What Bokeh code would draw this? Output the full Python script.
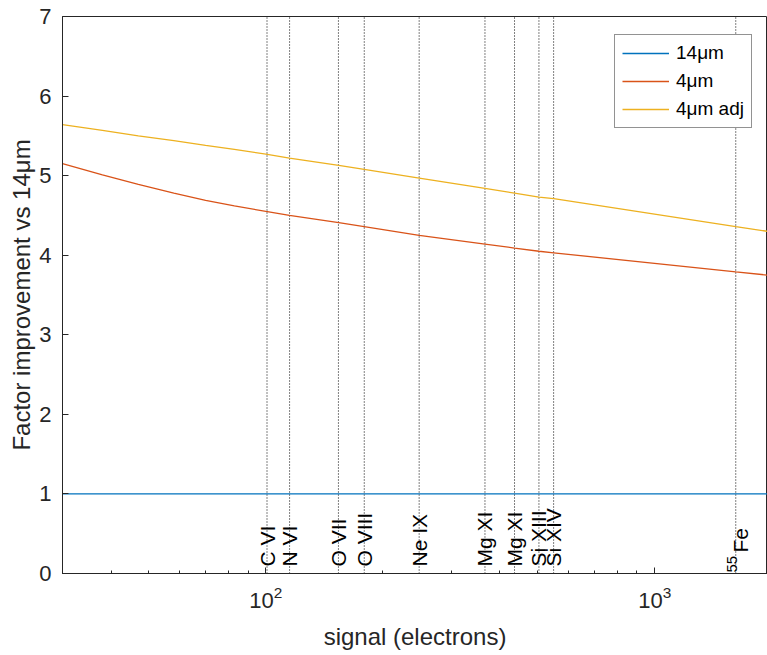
import math
from bokeh.plotting import figure
from bokeh.models import FixedTicker, Legend, LegendItem, Range1d, LogTickFormatter
from bokeh.embed import file_html
from bokeh.resources import INLINE
from bokeh.core.properties import value

# ---- data ----
signal = [30, 38, 47, 58, 70, 83, 100, 115, 154, 179, 248, 366, 436, 504, 550, 1616, 1950]
f_14um = [1.0] * len(signal)
f_4um = [5.15, 5.01, 4.89, 4.78, 4.69, 4.62, 4.55, 4.50, 4.41, 4.36, 4.25, 4.14, 4.09, 4.05, 4.03, 3.79, 3.75]
f_4um_adj = [5.64, 5.57, 5.50, 5.44, 5.38, 5.33, 5.27, 5.22, 5.13, 5.08, 4.97, 4.84, 4.78, 4.73, 4.71, 4.36, 4.30]

line_names = ["C VI", "N VI", "O VII", "O VIII", "Ne IX", "Mg XI", "Mg XI", "Si XIII", "Si XIV"]
line_signal = [100.7, 115.1, 153.7, 179.1, 247.9, 366.0, 436.0, 503.8, 549.6]
fe_signal = [1615.9]

x_major = [100, 1000]
x_minor = [30, 40, 50, 60, 70, 80, 90, 200, 300, 400, 500, 600, 700, 800, 900, 2000]
y_ticks = [0, 1, 2, 3, 4, 5, 6, 7]

FONT = "Liberation Sans"
AX = "#262626"

p = figure(x_axis_type="log", width=767, height=652,
           x_range=Range1d(30, 1950), y_range=Range1d(0, 7),
           output_backend="svg", toolbar_location=None,
           min_border_left=62, min_border_right=0, min_border_top=16, min_border_bottom=76)
p.background_fill_color = "white"
p.border_fill_color = "white"
p.outline_line_color = AX
p.outline_line_width = 1
p.xgrid.visible = False
p.ygrid.visible = False

# vertical emission-line markers
n_marks = len(line_signal) + len(fe_signal)
p.segment(x0=line_signal + fe_signal, x1=line_signal + fe_signal,
          y0=[0] * n_marks, y1=[7] * n_marks,
          line_color="black", line_width=1, line_dash="1 2")

r14 = p.line(signal, f_14um, line_color="#0072BD", line_width=1.3)
r4 = p.line(signal, f_4um, line_color="#D95319", line_width=1.3)
r4a = p.line(signal, f_4um_adj, line_color="#EDB120", line_width=1.3)

p.text(x=line_signal, y=[0] * len(line_signal), text=line_names, angle=math.pi / 2,
       text_align="left", text_baseline="middle", y_offset=-7,
       text_font=value(FONT), text_font_size="21px", text_color="black")
p.text(x=fe_signal, y=[0], text=["55"], angle=math.pi / 2,
       text_align="left", text_baseline="middle", x_offset=-4, y_offset=-1,
       text_font=value(FONT), text_font_size="15px", text_color="black")
p.text(x=fe_signal, y=[0], text=["Fe"], angle=math.pi / 2,
       text_align="left", text_baseline="middle", x_offset=5, y_offset=-21,
       text_font=value(FONT), text_font_size="21px", text_color="black")

legend = Legend(items=[LegendItem(label="14\u03bcm", renderers=[r14]),
                       LegendItem(label="4\u03bcm", renderers=[r4]),
                       LegendItem(label="4\u03bcm adj", renderers=[r4a])],
                location=(552, 445))
legend.label_text_font = FONT
legend.label_text_font_size = "19px"
legend.label_text_color = "black"
legend.glyph_width = 47
legend.glyph_height = 20
legend.label_height = 20
legend.label_standoff = 7
legend.spacing = 6
legend.padding = 7
legend.margin = 0
legend.border_line_color = AX
legend.border_line_width = 1
legend.background_fill_alpha = 1
p.add_layout(legend)

for ax in (p.xaxis[0], p.yaxis[0]):
    ax.axis_line_color = AX
    ax.major_tick_line_color = AX
    ax.minor_tick_line_color = AX
    ax.major_tick_in = 6
    ax.major_tick_out = 0
    ax.minor_tick_in = 3
    ax.minor_tick_out = 0
    ax.major_label_text_font = FONT
    ax.major_label_text_font_size = "22px"
    ax.major_label_text_color = AX
    ax.axis_label_text_font = FONT
    ax.axis_label_text_font_size = "24px"
    ax.axis_label_text_font_style = "normal"
    ax.axis_label_text_color = AX

p.xaxis.ticker = FixedTicker(ticks=x_major, minor_ticks=x_minor)
p.xaxis.formatter = LogTickFormatter()
p.xaxis.major_label_standoff = 12
p.xaxis.axis_label = "signal (electrons)"
p.xaxis.axis_label_standoff = 12

p.yaxis.ticker = FixedTicker(ticks=y_ticks)
p.yaxis.major_label_standoff = 11
p.yaxis.axis_label = "Factor improvement vs 14\u03bcm"
p.yaxis.axis_label_standoff = 1

open("out.html", "w").write(file_html(p, INLINE))
